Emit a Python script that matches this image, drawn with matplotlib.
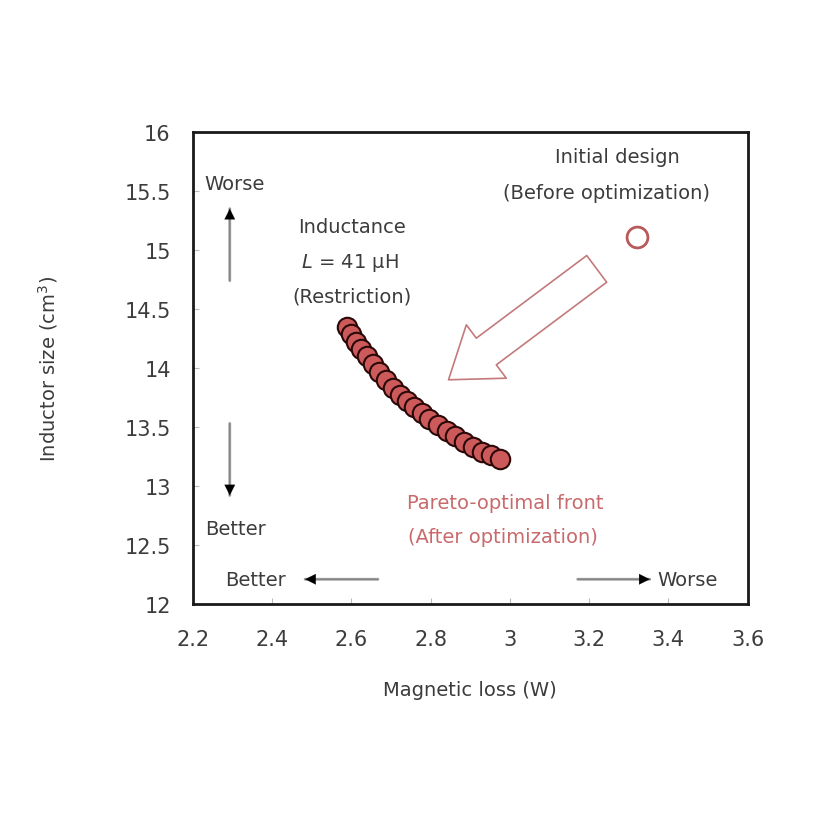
import numpy as np
import matplotlib
matplotlib.use("Agg")
from matplotlib import pyplot as plt

# Pareto-optimal front (after optimization)
pareto_loss = [2.590, 2.600, 2.612, 2.625, 2.640, 2.655, 2.670, 2.688,
               2.705, 2.722, 2.740, 2.758, 2.777, 2.797, 2.818, 2.840,
               2.862, 2.885, 2.908, 2.930, 2.952, 2.975]
pareto_size = [14.35, 14.29, 14.22, 14.16, 14.10, 14.03, 13.97, 13.90,
               13.83, 13.77, 13.72, 13.67, 13.62, 13.57, 13.52, 13.47,
               13.42, 13.37, 13.33, 13.29, 13.26, 13.23]

# initial design (before optimization)
init_loss = [3.32]
init_size = [15.11]

x_ticks = [2.2, 2.4, 2.6, 2.8, 3.0, 3.2, 3.4, 3.6]
x_tick_labels = ['2.2', '2.4', '2.6', '2.8', '3', '3.2', '3.4', '3.6']
y_ticks = [12, 12.5, 13, 13.5, 14, 14.5, 15, 15.5, 16]
y_tick_labels = ['12', '12.5', '13', '13.5', '14', '14.5', '15', '15.5', '16']

TXT = '#3c3c3c'
RED_TXT = '#c86a6c'

plt.rcParams['font.family'] = ['DejaVu Sans']

fig = plt.figure(figsize=(8.28, 8.28), dpi=100)
ax = fig.add_axes([0.233, 0.2693, 0.670, 0.5701])

ax.plot(pareto_loss, pareto_size, 'o', ms=14, mfc='#cd5a5a', mec='#2a0808',
        mew=1.5, zorder=3)
ax.plot(init_loss, init_size, 'o', ms=15, mfc='white', mec='#b85a5a',
        mew=2, zorder=3)

ax.set_xlim(2.2, 3.6)
ax.set_ylim(12, 16)
ax.set_xticks(x_ticks)
ax.set_xticklabels(x_tick_labels)
ax.set_yticks(y_ticks)
ax.set_yticklabels(y_tick_labels)
ax.tick_params(direction='in', length=4, width=0.8, color='#bbbbbb',
               labelsize=15, labelcolor=TXT)
ax.tick_params(axis='x', pad=18)
ax.tick_params(axis='y', pad=16)
for s in ax.spines.values():
    s.set_linewidth(2)
    s.set_color('#1a1a1a')

ax.set_xlabel('Magnetic loss (W)', fontsize=14, color=TXT, labelpad=22)
ax.set_ylabel('Inductor size (cm$^3$)', fontsize=14, color=TXT, labelpad=46)

# big hollow arrow from initial design to the front
ax.annotate('', xy=(2.845, 13.90), xytext=(3.219, 14.84),
            arrowprops=dict(arrowstyle='simple,head_length=3.4,head_width=4.8,tail_width=2.4',
                            mutation_scale=10, fc='white', ec='#c47a7a', lw=1.2,
                            shrinkA=0, shrinkB=0))


def small_arrow(start, end):
    ax.annotate('', xy=end, xytext=start,
                arrowprops=dict(arrowstyle='-', color='#999999', lw=2,
                                shrinkA=0, shrinkB=0))
    ax.annotate('', xy=end, xytext=start,
                arrowprops=dict(arrowstyle='-|>', color='black', lw=0.1,
                                mutation_scale=19, shrinkA=0, shrinkB=0),
                annotation_clip=False)


small_arrow((2.293, 14.74), (2.293, 15.35))
small_arrow((2.293, 13.53), (2.293, 12.92))
small_arrow((2.667, 12.21), (2.483, 12.21))
small_arrow((3.171, 12.21), (3.353, 12.21))

fs = 14
ax.text(2.23, 15.56, 'Worse', fontsize=fs, color=TXT, ha='left', va='center')
ax.text(2.23, 12.64, 'Better', fontsize=fs, color=TXT, ha='left', va='center')
ax.text(2.281, 12.21, 'Better', fontsize=fs, color=TXT, ha='left', va='center')
ax.text(3.373, 12.21, 'Worse', fontsize=fs, color=TXT, ha='left', va='center')

ax.text(2.601, 15.20, 'Inductance', fontsize=fs, color=TXT, ha='center', va='center')
ax.text(2.596, 14.90, '$L$ = 41 μH', fontsize=fs, color=TXT, ha='center', va='center')
ax.text(2.601, 14.61, '(Restriction)', fontsize=fs, color=TXT, ha='center', va='center')

ax.text(3.270, 15.79, 'Initial design', fontsize=fs, color=TXT, ha='center', va='center')
ax.text(3.244, 15.49, '(Before optimization)', fontsize=fs, color=TXT, ha='center', va='center')

ax.text(2.987, 12.86, 'Pareto-optimal front', fontsize=fs, color=RED_TXT, ha='center', va='center')
ax.text(2.982, 12.57, '(After optimization)', fontsize=fs, color=RED_TXT, ha='center', va='center')

fig.savefig('out.png', dpi=100)
